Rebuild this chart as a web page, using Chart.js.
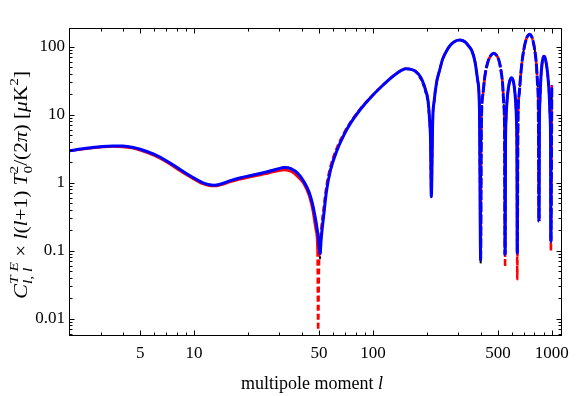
<!DOCTYPE html>
<html><head><meta charset="utf-8">
<script src="https://cdn.jsdelivr.net/npm/chart.js@4/dist/chart.umd.min.js"></script>
<style>html,body{margin:0;padding:0;background:#fff;}canvas{display:block;}</style>
</head><body>
<canvas id="c" width="576" height="396"></canvas>
<script>
// multipole moments (shared sampling grid)
const ells = [2,2.5,3,3.5,4,4.5,5,6,7,8,9,10,11,12,13,14,16,18,20,23,26,29,32,35,38,41,44,46,48,49,49.4,50,50.6,51.5,53,55,58,63,69,75,85,96,114,135,
  153,165,174,183,190,197,203,207,210,212,
  216,220,227,236,245,259,270,285,306,328,345,358,372,385,394,400,
  404,412,422,437,456,474,492,502,511,523,531,539,544,548,
  551,555,562,571,583,595,606,618,627,634,638,641,
  647,657,672,692,720,740,754,770,786,805,819,831,841,848,
  852,859,869,883,900,912,925,940,955,967,977,984,988,1000];
// |C_l^TE| l(l+1)T0^2/(2pi) [muK^2]
const blueVals = [2.95,3.2,3.38,3.47,3.45,3.32,3.1,2.6,2.1,1.68,1.38,1.17,1.02,0.94,0.92,0.95,1.07,1.17,1.25,1.35,1.46,1.58,1.67,1.6,1.37,1.05,0.72,0.48,0.27,0.19,0.165,0.12,0.09,0.16,0.32,0.75,1.55,3.0,5.1,7.5,11.9,17.3,27.3,40,
  47.5,46,43,37,30.5,23,16.4,9,4,0.62,
  8.5,16,30,45,65,88,104,118,125,117,100,86,60,32,12,0.073,
  7.5,20,36,57,74,80,74,67,57,40,28,14,7,0.087,
  3.3,8.7,16,24,32,35,32.6,24.7,16,8.7,3.3,0.091,
  8,20,42,80,130,148,152,142,120,85,56,30,12,0.27,
  6,17,35,58,72,71,62,48,32,20,10,4,0.136,27];
const redVals = [2.93,3.16,3.32,3.39,3.36,3.22,3.0,2.5,2.02,1.61,1.32,1.12,0.98,0.91,0.89,0.92,1.03,1.12,1.19,1.28,1.38,1.47,1.54,1.45,1.22,0.97,0.64,0.4,0.2,0.1,0.0068,0.07,0.13,0.22,0.42,0.9,1.75,3.3,5.4,7.8,12.2,17.5,27.3,40,
  47.5,46,43,37,30.5,23,16.4,9,4,0.62,
  8.5,16,30,45,65,88,104,118,125,117,100,86,60,32,12,0.08,
  7.5,20,36,57,74,80,74,67,57,40,28,14,7,0.058,
  3.3,8.7,16,24,32,35,32.6,24.7,16,8.7,3.3,0.038,
  8,20,42,80,130,148,152,142,120,85,56,30,12,0.27,
  6,17,35,58,72,71,62,48,32,20,10,4,0.10,27];
const blackVals = [2.95,3.2,3.38,3.47,3.45,3.32,3.1,2.6,2.1,1.68,1.38,1.17,1.02,0.94,0.92,0.95,1.07,1.17,1.25,1.35,1.46,1.58,1.67,1.6,1.37,1.05,0.72,0.48,0.27,0.19,0.165,0.12,0.077,0.16,0.32,0.75,1.55,3.0,5.1,7.5,11.9,17.3,27.3,40,
  47.5,46,42,35,28.5,21,14.5,7.8,3.2,0.62,
  8.5,16,30,45,65,88,104,118,125,117,100,86,60,32,12,0.065,
  7.5,20,36,57,74,80,74,67,57,40,28,14,7,0.087,
  3.3,8.7,16,24,32,35,32.6,24.7,16,8.7,3.3,0.091,
  8,20,42,80,130,148,152,142,120,85,56,30,12,0.27,
  6,17,35,58,72,71,62,48,32,20,10,4,0.136,27];
const xTickValues = [5,10,50,100,500,1000];
const yTickValues = [0.01,0.1,1,10,100];
const blueDashRanges = [[400,548],[641,848],[988,1000]];
const redSolidUntil = 49;

const FONT = '"Liberation Serif","Times New Roman",serif';
const X_MIN = 2, X_MAX = 1140, Y_MIN = 0.00557, Y_MAX = 188;

function toPts(vals){ return ells.map((l,i)=>({x:l,y:vals[i]})); }
function blueDashed(a,b){ return blueDashRanges.some(r => a>=r[0] && b<=r[1]); }

function minorVals(min,max,majors){
  const out=[];
  for(let e=-3;e<=4;e++){ for(let m=1;m<=9;m++){ const v=+(m*Math.pow(10,e)).toPrecision(6);
    if(v>min && v<max && !majors.includes(v)) out.push(v);} }
  return out;
}

const framePlugin = {
  id:'frame',
  afterDraw(chart){
    const {ctx, chartArea:a, scales:{x,y}} = chart;
    ctx.save();
    ctx.strokeStyle='#000'; ctx.lineWidth=1;
    const L=Math.round(a.left)+0.5, R=Math.round(a.right)-0.5, T=Math.round(a.top)+0.5, B=Math.round(a.bottom)-0.5;
    ctx.strokeRect(L,T,R-L,B-T);
    ctx.beginPath();
    const xt=(v,len)=>{const p=Math.round(x.getPixelForValue(v))+0.5; ctx.moveTo(p,B); ctx.lineTo(p,B-len); ctx.moveTo(p,T); ctx.lineTo(p,T+len);};
    const yt=(v,len)=>{const p=Math.round(y.getPixelForValue(v))+0.5; ctx.moveTo(L,p); ctx.lineTo(L+len,p); ctx.moveTo(R,p); ctx.lineTo(R-len,p);};
    xTickValues.forEach(v=>xt(v,5)); minorVals(X_MIN,X_MAX,xTickValues).forEach(v=>xt(v,3));
    yTickValues.forEach(v=>yt(v,5)); minorVals(Y_MIN,Y_MAX,yTickValues).forEach(v=>yt(v,3));
    ctx.stroke();
    ctx.restore();
  }
};

function drawRich(ctx, segs, base, target){
  let w=0, lastStart=0, lastW=0;
  const placed=[];
  segs.forEach(s=>{
    const size=s.s||base;
    ctx.font=(s.it?'italic ':'')+size+'px '+FONT;
    const sw=ctx.measureText(s.t).width + (s.pad||0);
    if(s.stack){ placed.push({...s,size,x:lastStart}); const nw=Math.max(lastW,sw); w=lastStart+nw; lastW=nw; }
    else { placed.push({...s,size,x:w}); lastStart=w; lastW=sw; w+=sw; }
  });
  if(target){ ctx.scale(target/w,1); }
  placed.forEach(p=>{
    ctx.font=(p.it?'italic ':'')+p.size+'px '+FONT;
    ctx.fillText(p.t, p.x - w/2, p.dy||0);
  });
}

const titlePlugin = {
  id:'titles',
  afterDraw(chart){
    const ctx=chart.ctx;
    ctx.save();
    ctx.fillStyle='#000'; ctx.textBaseline='alphabetic'; ctx.textAlign='left';
    ctx.translate(312,389);
    drawRich(ctx,[{t:'multipole moment '},{t:'l',it:1}],18);
    ctx.restore();
    ctx.save();
    ctx.fillStyle='#000'; ctx.textBaseline='alphabetic'; ctx.textAlign='left';
    ctx.translate(27,185); ctx.rotate(-Math.PI/2);
    drawRich(ctx,[
      {t:'C',it:1,s:19},{t:'l, l',it:1,s:13,dy:5},{t:'T E',it:1,s:13,dy:-9,stack:true},
      {t:' \u00d7 '},{t:'l',it:1},{t:'('},{t:'l',it:1},{t:'+1) '},
      {t:'T',it:1},{t:'0',s:13,dy:5},{t:'2',s:13,dy:-9,stack:true},
      {t:'/(2'},{t:'\u03c0',it:1},{t:') ['},{t:'\u03bc',it:1},{t:'K'},{t:'2',s:13,dy:-9},{t:']'}
    ],18,228);
    ctx.restore();
  }
};

if (ells.length!==blueVals.length || ells.length!==redVals.length || ells.length!==blackVals.length)
  console.error('length mismatch', ells.length, blueVals.length, redVals.length, blackVals.length);

new Chart(document.getElementById('c'), {
  type:'line',
  data:{datasets:[
    {label:'blue', data:toPts(blueVals), borderColor:'#0000ff', borderWidth:3, order:0,
     segment:{borderDash: c => blueDashed(c.p0.parsed.x, c.p1.parsed.x) ? [10,2] : undefined}},
    {label:'red', data:toPts(redVals), borderColor:'#ff0000', borderWidth:2.5, order:1,
     segment:{borderDash: c => c.p1.parsed.x > redSolidUntil ? [6,3] : undefined}},
    {label:'black', data:toPts(blackVals), borderColor:'#000000', borderWidth:2, borderDash:[4,3], order:2}
  ]},
  options:{
    responsive:false, animation:false, devicePixelRatio:1,
    elements:{point:{radius:0}, line:{cubicInterpolationMode:'monotone', borderCapStyle:'butt', fill:false}},
    layout:{padding:{left:0,right:9,top:28,bottom:0}},
    plugins:{legend:{display:false}, tooltip:{enabled:false}},
    scales:{
      x:{type:'logarithmic', min:X_MIN, max:X_MAX,
         grid:{display:false, drawTicks:false}, border:{display:false},
         afterBuildTicks: s => { s.ticks = xTickValues.map(v=>({value:v})); },
         afterFit: s => { s.height = 60; },
         ticks:{autoSkip:false, maxRotation:0, padding:7, color:'#000', font:{family:FONT,size:17}, callback: v => String(v)}},
      y:{type:'logarithmic', min:Y_MIN, max:Y_MAX,
         grid:{display:false, drawTicks:false}, border:{display:false},
         afterBuildTicks: s => { s.ticks = yTickValues.map(v=>({value:v})); },
         afterFit: s => { s.width = 69; },
         ticks:{autoSkip:false, padding:4, color:'#000', font:{family:FONT,size:17}, callback: v => String(v)}}
    }
  },
  plugins:[framePlugin, titlePlugin]
});
</script>
</body></html>
